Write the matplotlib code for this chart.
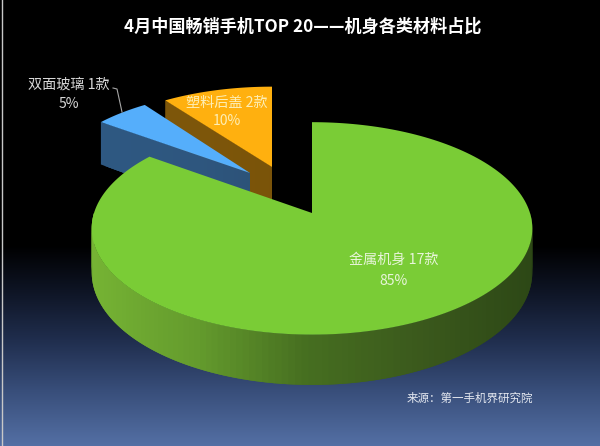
import matplotlib
matplotlib.use('Agg')
import matplotlib.pyplot as plt
import numpy as np
from matplotlib.patches import Polygon

plt.rcParams['font.family'] = ['Noto Sans CJK SC', 'DejaVu Sans']

# chart data
categories = ['金属机身', '双面玻璃', '塑料后盖']
counts = [17, 1, 2]
shares = [85, 5, 10]
title = '4月中国畅销手机TOP 20——机身各类材料占比'
source = '来源：第一手机界研究院'

# look of each slice, in pixels of the 600x446 picture
centres = [(312, 213), (250, 173), (272, 167)]
radii = [(218, 104), (200, 94), (203, 92)]
depths = [43, 46, 46]
persp = 0.145  # the far side of the pie looks smaller
top_colors = ['#7acc36', '#55aefb', '#ffb00f']
label_pos = [(394, 260), (69, 85), (227, 103)]
pct_pos = [(394, 281), (69, 104), (227, 121)]
label_colors = ['#e8f5da', '#d8d8d8', '#fdeeb5']

# side shading runs from left to right: x pixel, then colour for each slice
shade_x = [90, 200, 310, 430, 530]
shade_rgb = [
    [(118, 180, 52), (100, 155, 45), (70, 110, 32), (58, 88, 28), (45, 72, 22)],
    [(46, 88, 130), (46, 86, 126), (42, 78, 112), (40, 75, 105), (40, 75, 105)],
    [(125, 86, 10), (125, 86, 10), (120, 82, 8), (120, 82, 8), (120, 82, 8)],
]

# background gradient stops (y pixel, colour)
bg_y = [0, 245, 290, 340, 390, 446]
bg_r = [0, 0, 14, 32, 56, 84]
bg_g = [0, 0, 20, 46, 78, 112]
bg_b = [0, 0, 36, 78, 122, 165]


def edge(slice_no, t, drop=0):
    cx, cy = centres[slice_no]
    rx, ry = radii[slice_no]
    w = 1 + persp * np.cos(t)
    return cx + rx * np.sin(t) / w, cy + (drop - ry * np.cos(t)) / w


def shade(slice_no, x):
    rgb = np.array(shade_rgb[slice_no]) / 255
    return [np.interp(x, shade_x, rgb[:, c]) for c in range(3)]


fig = plt.figure(figsize=(6, 4.46), dpi=100)
ax = fig.add_axes([0, 0, 1, 1])
ax.set_xlim(0, 600)
ax.set_ylim(446, 0)
ax.axis('off')

rows = np.arange(446)
bg = np.stack([np.interp(rows, bg_y, c) for c in (bg_r, bg_g, bg_b)], axis=1) / 255
ax.imshow(bg[:, None, :], extent=[0, 600, 446, 0], aspect='auto', zorder=0)
ax.plot([2, 2], [0, 446], color='#c8c8c8', lw=1, zorder=1)

# slices go clockwise from 12 o'clock, back ones get painted first
bounds = np.cumsum([0] + shares) / 100 * 2 * np.pi
for z, i in enumerate([2, 1, 0]):
    start, end = bounds[i], bounds[i + 1]
    cx, cy = centres[i]
    d = depths[i]
    base = 2 + z * 3

    # cut face of the slice, in strips so it can be shaded
    ox, oy = edge(i, start)
    ox2, oy2 = edge(i, start, d)
    if abs(ox - cx) > 1:
        fr = np.linspace(0, 1, 40)
        for a, b in zip(fr[:-1], fr[1:]):
            b = min(b + 0.05, 1)
            ax.add_patch(Polygon([(ox + (cx - ox) * a, oy + (cy - oy) * a),
                                  (ox + (cx - ox) * b, oy + (cy - oy) * b),
                                  (ox2 + (cx - ox2) * b, oy2 + (cy + d - oy2) * b),
                                  (ox2 + (cx - ox2) * a, oy2 + (cy + d - oy2) * a)],
                                 closed=True, fc=shade(i, ox + (cx - ox) * a), ec='none', zorder=base))

    # rim, only the part facing the viewer; strips overlap to hide the seams
    lo, hi = max(start, np.pi / 2), min(end, 1.5 * np.pi)
    if hi > lo:
        steps = np.linspace(lo, hi, 120)
        for n in range(len(steps) - 1):
            a, b = steps[n], steps[min(n + 2, len(steps) - 1)]
            ax.add_patch(Polygon([edge(i, a), edge(i, b), edge(i, b, d), edge(i, a, d)],
                                 closed=True, fc=shade(i, edge(i, a)[0]), ec='none', zorder=base + 1))

    # top face
    t = np.linspace(start, end, 200)
    pts = [(cx, cy)] + [edge(i, v) for v in t]
    ax.add_patch(Polygon(pts, closed=True, fc=top_colors[i], ec='none', zorder=base + 2))

for i in range(3):
    ax.text(*label_pos[i], f'{categories[i]} {counts[i]}款', color=label_colors[i], fontsize=10.2,
            ha='center', va='center', zorder=20)
    ax.text(*pct_pos[i], f'{shares[i]}%', color=label_colors[i], fontsize=10,
            ha='center', va='center', zorder=20)

# leader line of the blue slice
ax.plot([113, 117, 122], [88, 89, 112], color='#a6a6a6', lw=0.8, zorder=20)

ax.text(303, 27, title, color='white', fontsize=12.3, fontweight='bold',
        ha='center', va='center', zorder=20)
ax.text(470, 398, source, color='#e4e8f0', fontsize=8.3, ha='center', va='center', zorder=20)

fig.savefig('out.png', dpi=100)
